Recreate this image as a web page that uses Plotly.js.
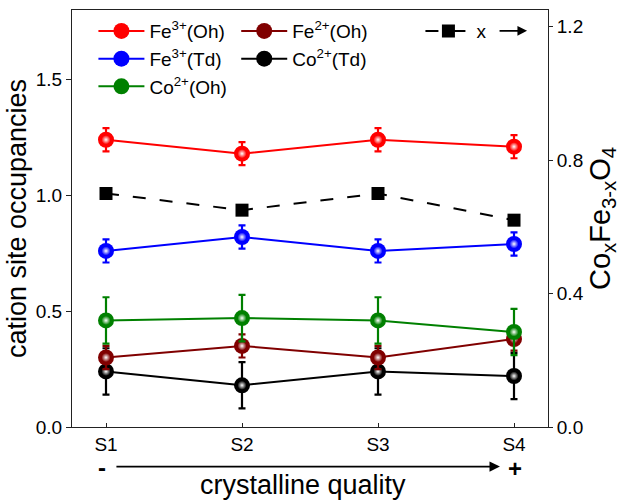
<!DOCTYPE html>
<html>
<head>
<meta charset="utf-8">
<script src="https://cdn.plot.ly/plotly-3.0.1.min.js"></script>
<style>html,body{margin:0;padding:0;background:#fff;}#chart{width:620px;height:502px;}</style>
</head>
<body>
<div id="chart"></div>
<script>
// ---- data ----
const samples = ["S1", "S2", "S3", "S4"];
const fe3Oh = [1.24, 1.18, 1.24, 1.21];
const fe3OhErr = [0.05, 0.05, 0.05, 0.05];
const fe3Td = [0.76, 0.82, 0.76, 0.79];
const fe3TdErr = [0.05, 0.05, 0.05, 0.05];
const co2Oh = [0.46, 0.47, 0.46, 0.41];
const co2OhErr = [0.10, 0.10, 0.10, 0.10];
const fe2Oh = [0.30, 0.35, 0.30, 0.38];
const fe2OhErr = [0.05, 0.05, 0.05, 0.05];
const co2Td = [0.24, 0.18, 0.24, 0.22];
const co2TdErr = [0.10, 0.10, 0.10, 0.10];
const xComp = [0.70, 0.65, 0.70, 0.62];
const leftTicks = [0, 0.5, 1.0, 1.5];
const rightTicks = [0, 0.4, 0.8, 1.2];

const FONT = "Liberation Sans, Arial, sans-serif";

function series(name, y, err, color, legendId, rank) {
  return {
    x: samples, y: y, name: name, type: "scatter", mode: "lines+markers",
    legend: legendId, legendrank: rank,
    line: {color: color, width: 2},
    marker: {color: color, size: 16, symbol: "circle", line: {width: 0}},
    error_y: {type: "data", array: err, visible: true, color: color, thickness: 2.2, width: 3.5},
    cliponaxis: false
  };
}
function highlight(y, color) {
  return {
    x: samples, y: y, type: "scatter", mode: "markers", showlegend: false, hoverinfo: "skip",
    marker: {color: color, size: 9, symbol: "circle", line: {width: 0},
             gradient: {type: "radial", color: "#ffffff"}},
    cliponaxis: false
  };
}

const sFe3Oh = series("Fe<sup>3+</sup>(Oh)", fe3Oh, fe3OhErr, "#ff0000", "legend", 1);
const sFe3Td = series("Fe<sup>3+</sup>(Td)", fe3Td, fe3TdErr, "#0000ff", "legend", 2);
const sCo2Oh = series("Co<sup>2+</sup>(Oh)", co2Oh, co2OhErr, "#008000", "legend", 3);
const sFe2Oh = series("Fe<sup>2+</sup>(Oh)", fe2Oh, fe2OhErr, "#800000", "legend2", 1);
const sCo2Td = series("Co<sup>2+</sup>(Td)", co2Td, co2TdErr, "#000000", "legend2", 2);

// draw order: black & dark red behind, then green, blue, red
const traces = [
  sCo2Td, highlight(co2Td, "#000000"),
  sFe2Oh, highlight(fe2Oh, "#800000"),
  sCo2Oh, highlight(co2Oh, "#008000"),
  sFe3Td, highlight(fe3Td, "#0000ff"),
  sFe3Oh, highlight(fe3Oh, "#ff0000"),
  {
    x: samples, y: xComp, name: "x", type: "scatter", mode: "lines+markers",
    yaxis: "y2", legend: "legend3",
    line: {color: "#000000", width: 2, dash: "13px,14px"},
    marker: {color: "#000000", size: 13, symbol: "square"},
    cliponaxis: false
  }
];

const legendCommon = {
  yanchor: "top", xanchor: "left", bgcolor: "rgba(0,0,0,0)",
  font: {family: FONT, size: 19, color: "#000"},
  itemwidth: 46, tracegroupgap: 0, traceorder: "normal"
};

const layout = {
  width: 620, height: 502,
  margin: {l: 72, r: 72, t: 10, b: 75},
  paper_bgcolor: "#ffffff", plot_bgcolor: "#ffffff",
  font: {family: FONT, color: "#000"},
  xaxis: {
    type: "category", range: [-0.25, 3.25],
    showline: true, linecolor: "#222", linewidth: 1, mirror: true,
    ticks: "inside", ticklen: 4, tickcolor: "#222",
    showgrid: false, zeroline: false,
    tickfont: {family: FONT, size: 19, color: "#000"}
  },
  yaxis: {
    range: [0, 1.8], tickvals: leftTicks, tickformat: ".1f",
    showline: true, linecolor: "#222", linewidth: 1,
    ticks: "outside", ticklen: 5, tickcolor: "#222",
    showgrid: false, zeroline: false,
    tickfont: {family: FONT, size: 19, color: "#000"},
    title: {text: "cation site occupancies", font: {family: FONT, size: 27, color: "#000"}, standoff: 1}
  },
  yaxis2: {
    overlaying: "y", side: "right", range: [0, 1.25], tickvals: rightTicks, tickformat: ".1f",
    showline: true, linecolor: "#222", linewidth: 1,
    ticks: "outside", ticklen: 4, tickcolor: "#222",
    showgrid: false, zeroline: false,
    tickfont: {family: FONT, size: 19, color: "#000"},
    title: {text: "Co<sub>x</sub>Fe<sub>3-x</sub>O<sub>4</sub>", font: {family: FONT, size: 29, color: "#000"}, standoff: 4}
  },
  legend: Object.assign({x: 0.045, y: 0.995}, legendCommon),
  legend2: Object.assign({x: 0.345, y: 0.995}, legendCommon),
  legend3: Object.assign({x: 0.732, y: 0.995}, legendCommon),
  showlegend: true,
  annotations: [
    {xref: "paper", yref: "paper", x: 0.899, y: -0.095, ax: -385, ay: 0, text: "",
     showarrow: true, arrowhead: 2, arrowsize: 1.3, arrowwidth: 1.6, arrowcolor: "#000"},
    {xref: "paper", yref: "paper", x: 0.956, y: 0.95, ax: -29, ay: 0, text: "",
     showarrow: true, arrowhead: 2, arrowsize: 1.2, arrowwidth: 1.6, arrowcolor: "#000"},
    {xref: "paper", yref: "paper", x: (102 - 72) / 476, y: (427 - 467) / 417, xanchor: "center", yanchor: "middle",
     text: "<b>-</b>", showarrow: false, font: {family: FONT, size: 24, color: "#000"}},
    {xref: "paper", yref: "paper", x: (515 - 72) / 476, y: (427 - 468) / 417, xanchor: "center", yanchor: "middle",
     text: "<b>+</b>", showarrow: false, font: {family: FONT, size: 24, color: "#000"}},
    {xref: "paper", yref: "paper", x: (303 - 72) / 476, y: (427 - 485) / 417, xanchor: "center", yanchor: "middle",
     text: "crystalline quality", showarrow: false, font: {family: FONT, size: 27, color: "#000"}}
  ]
};

Plotly.newPlot("chart", traces, layout, {displayModeBar: false, staticPlot: true});
</script>
</body>
</html>
